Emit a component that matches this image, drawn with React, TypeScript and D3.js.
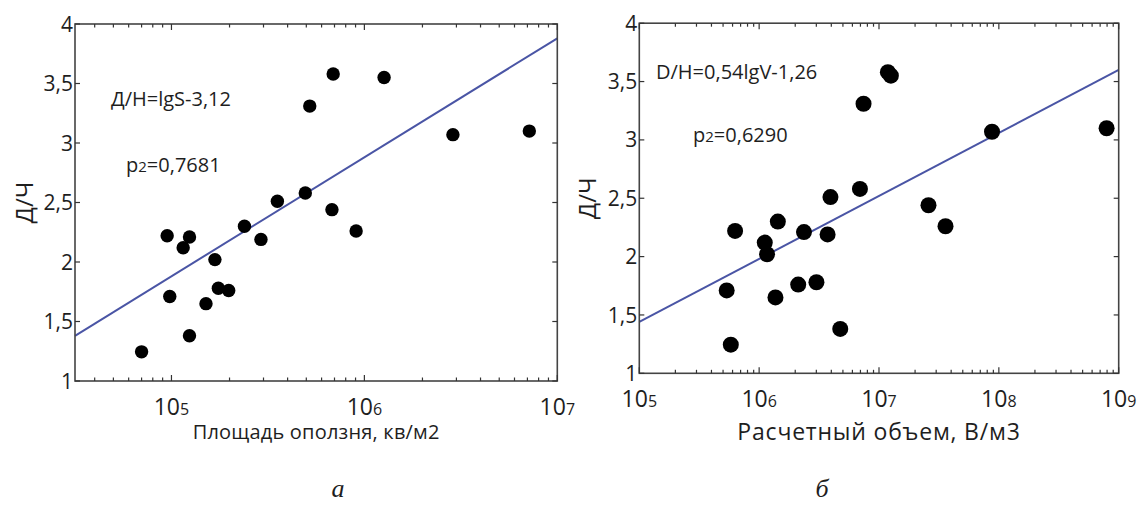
import React from 'react';
import { scaleLog, scaleLinear } from 'd3';

// Д/Ч for each landslide (same points on both panels)
const ratio = [1.245, 2.22, 2.12, 2.21, 1.71, 1.38, 1.65, 2.02, 1.78, 1.76, 2.3, 2.19, 2.51, 2.58, 3.31, 3.58, 2.44, 2.26, 3.55, 3.07, 3.1];
// landslide area, m2
const area = [70000, 95000, 115000, 124000, 98000, 124000, 151000, 168000, 175000, 198000, 239000, 291000, 354000, 494000, 521000, 689000, 679000, 906000, 1265000, 2877000, 7161000];
// estimated volume, m3
const volume = [580000, 630000, 1114000, 2366000, 536000, 4750000, 1368000, 1164000, 3006000, 2118000, 1432000, 3724000, 3936000, 6934000, 7430000, 11860000, 25880000, 35890000, 12560000, 87700000, 792500000];

// regression lines: [x, y] at the ends
const fitArea = [[31623, 1.38], [1e7, 3.88]];
const fitVolume = [[1e5, 1.44], [1e9, 3.6]];

const yTicks = [1, 1.5, 2, 2.5, 3, 3.5, 4];

const FONT = "'Open Sans', 'Noto Sans', sans-serif";
const INK = '#1e1e1e';

function Panel({ xs, fit, xDomain, x0, x1, y0, y1, r, xTitle, xTitleSize, xTitleY, xTitleSpacing, eq, r2, eqPos, r2Pos, yTitleX }) {
  const x = scaleLog().domain(xDomain).range([x0, x1]);
  const y = scaleLinear().domain([1, 4]).range([y1, y0]);
  const ticks = x.ticks();
  const isMajor = (t) => Math.abs(Math.log10(t) - Math.round(Math.log10(t))) < 1e-9;
  const majors = ticks.filter(isMajor);

  return (
    <g>
      {/* regression line */}
      <line x1={x(fit[0][0])} y1={y(fit[0][1])} x2={x(fit[1][0])} y2={y(fit[1][1])}
        stroke="#4a55a5" strokeWidth={2} />
      {/* points */}
      {xs.map((v, i) => (
        <circle key={i} cx={x(v)} cy={y(ratio[i])} r={r} fill="#000" />
      ))}
      {/* frame */}
      <rect x={x0} y={y0} width={x1 - x0} height={y1 - y0} fill="none" stroke="#444" strokeWidth={1.6} />
      {/* x ticks, bottom and top, inward */}
      {ticks.map((t, i) => {
        const len = isMajor(t) ? 6 : 3.5;
        return (
          <g key={i} stroke="#333" strokeWidth={1.2}>
            <line x1={x(t)} x2={x(t)} y1={y1} y2={y1 - len} />
            <line x1={x(t)} x2={x(t)} y1={y0} y2={y0 + len} />
          </g>
        );
      })}
      {/* y ticks, left and right, inward */}
      {yTicks.map((t, i) => (
        <g key={i} stroke="#333" strokeWidth={1.2}>
          <line x1={x0} x2={x0 + 5} y1={y(t)} y2={y(t)} />
          <line x1={x1} x2={x1 - 5} y1={y(t)} y2={y(t)} />
        </g>
      ))}
      {yTicks.map((t, i) => (
        <text key={i} x={x0 - 2} y={y(t)} dy="0.36em" textAnchor="end" fontSize={21} fill={INK}>
          {String(t).replace('.', ',')}
        </text>
      ))}
      {majors.map((t, i) => (
        <text key={i} x={x(t)} y={y1 + 34} textAnchor="middle" fontSize={23} fill={INK}>
          10<tspan fontSize={16}>{Math.round(Math.log10(t))}</tspan>
        </text>
      ))}
      <text x={(x0 + x1) / 2} y={xTitleY} textAnchor="middle" fontSize={xTitleSize}
        letterSpacing={xTitleSpacing} fill={INK}>{xTitle}</text>
      <text transform={`translate(${yTitleX},${(y0 + y1) / 2}) rotate(-90)`} dy="0.36em" textAnchor="middle"
        fontSize={24} fill={INK}>Д/Ч</text>
      <text x={eqPos[0]} y={eqPos[1]} fontSize={20} fill={INK}>{eq}</text>
      <text x={r2Pos[0]} y={r2Pos[1]} fontSize={20} fill={INK}>
        p<tspan fontSize={15}>2</tspan>={r2}
      </text>
    </g>
  );
}

export default function App() {
  return (
    <div style={{ position: 'absolute', left: 0, top: 0 }}>
      <svg width={1139} height={519} style={{ display: 'block', fontFamily: FONT }}>
        <rect width={1139} height={519} fill="#fff" />
        <Panel xs={area} fit={fitArea} xDomain={[31623, 1e7]} x0={75} x1={557.3} y0={24} y1={381} r={6.7}
          xTitle="Площадь оползня, кв/м2" xTitleSize={20} xTitleY={439} xTitleSpacing={0.2}
          eq="Д/Н=lgS-3,12" r2="0,7681" eqPos={[111, 106]} r2Pos={[126, 172]} yTitleX={24} />
        <Panel xs={volume} fit={fitVolume} xDomain={[1e5, 1e9]} x0={639.3} x1={1118.7} y0={23.2} y1={373.3} r={8}
          xTitle="Расчетный объем, В/м3" xTitleSize={23} xTitleY={440} xTitleSpacing={0.8}
          eq="D/H=0,54lgV-1,26" r2="0,6290" eqPos={[656, 79]} r2Pos={[693, 142]} yTitleX={587} />
        <text x={338} y={497} textAnchor="middle" fontSize={26} fontStyle="italic"
          fontFamily="'Liberation Serif', serif" fill={INK}>а</text>
        <text x={822} y={497} textAnchor="middle" fontSize={26} fontStyle="italic"
          fontFamily="'Liberation Serif', serif" fill={INK}>б</text>
      </svg>
    </div>
  );
}
